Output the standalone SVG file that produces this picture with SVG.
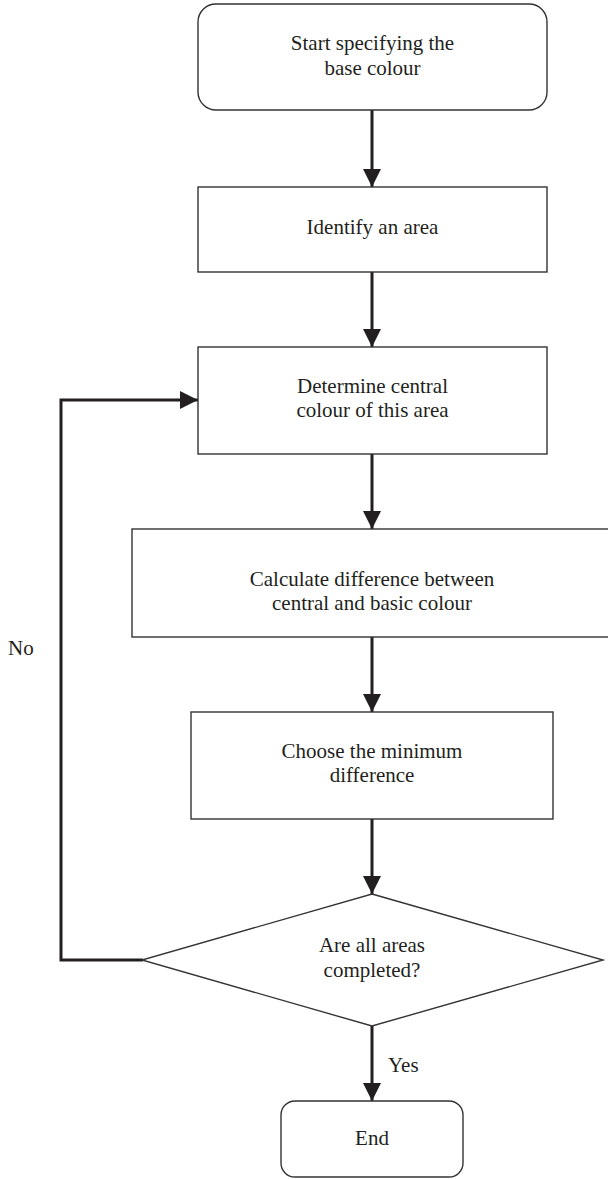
<svg xmlns="http://www.w3.org/2000/svg" width="608" height="1179" viewBox="0 0 608 1179">
<style>
.box{fill:#fff;stroke:#333;stroke-width:1.4}
.t{font-family:"Liberation Serif","Times New Roman",serif;font-size:21px;fill:#231f20;text-anchor:middle}
.lbl{font-family:"Liberation Serif","Times New Roman",serif;font-size:21px;fill:#231f20}
.c{fill:none;stroke:#231f20;stroke-width:3}
</style>
<defs>
<marker id="ah" markerUnits="userSpaceOnUse" markerWidth="19" markerHeight="19" viewBox="0 0 19 19" refX="18" refY="9.5" orient="auto">
<path d="M0,0.5 L18,9.5 L0,18.5 Z" fill="#231f20"/>
</marker>
</defs>
<rect width="608" height="1179" fill="#fff"/>
<g id="connectors">
<line class="c" x1="372" y1="110" x2="372" y2="187" marker-end="url(#ah)"/>
<line class="c" x1="372" y1="272" x2="372" y2="347" marker-end="url(#ah)"/>
<line class="c" x1="372" y1="454" x2="372" y2="529" marker-end="url(#ah)"/>
<line class="c" x1="372" y1="637" x2="372" y2="712" marker-end="url(#ah)"/>
<line class="c" x1="372" y1="819" x2="372" y2="894" marker-end="url(#ah)"/>
<line class="c" x1="372" y1="1026" x2="372" y2="1101" marker-end="url(#ah)"/>
<polyline class="c" points="143,960 61,960 61,400 198,400" marker-end="url(#ah)"/>
<text class="lbl" x="388" y="1072">Yes</text>
<text class="lbl" x="8" y="655">No</text>
</g>
<g id="start">
<rect class="box" x="198" y="4" width="349" height="106" rx="18"/>
<text class="t" x="372.5" y="50">Start specifying the</text>
<text class="t" x="372.5" y="75">base colour</text>
</g>
<g id="identify">
<rect class="box" x="198" y="187" width="349" height="85"/>
<text class="t" x="372.5" y="234">Identify an area</text>
</g>
<g id="determine">
<rect class="box" x="198" y="347" width="349" height="107"/>
<text class="t" x="372.5" y="393">Determine central</text>
<text class="t" x="372.5" y="417">colour of this area</text>
</g>
<g id="calculate">
<rect class="box" x="132" y="529" width="480" height="108"/>
<text class="t" x="372" y="586">Calculate difference between</text>
<text class="t" x="372" y="610">central and basic colour</text>
</g>
<g id="choose">
<rect class="box" x="191" y="712" width="362" height="107"/>
<text class="t" x="372" y="758">Choose the minimum</text>
<text class="t" x="372" y="782">difference</text>
</g>
<g id="decision">
<polygon class="box" points="372,894 603,960 372,1026 142,960"/>
<text class="t" x="372" y="952">Are all areas</text>
<text class="t" x="372" y="977">completed?</text>
</g>
<g id="end">
<rect class="box" x="281" y="1101" width="182" height="76" rx="14"/>
<text class="t" x="372" y="1145">End</text>
</g>
</svg>
